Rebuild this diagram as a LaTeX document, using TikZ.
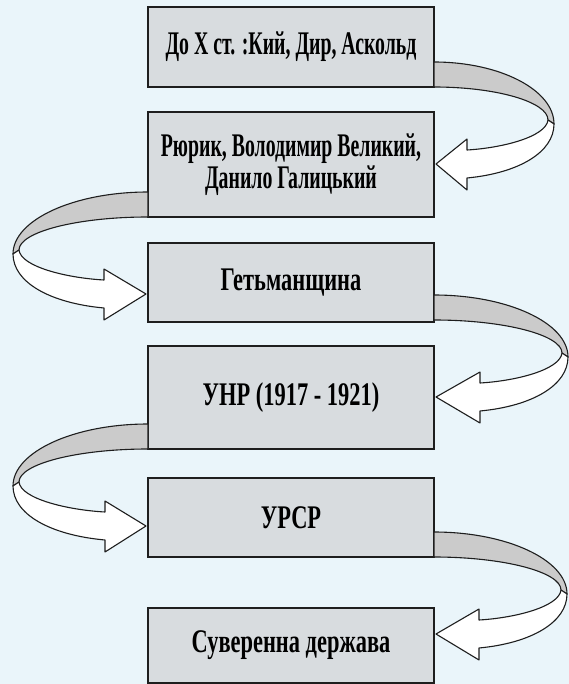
\documentclass[tikz,border=0pt]{standalone}
\usepackage{fontspec}
\usepackage{graphicx}
\setmainfont{Liberation Serif}
\usetikzlibrary{calc}
\definecolor{bgcol}{RGB}{234,245,250}
\definecolor{boxfill}{RGB}{216,220,223}
\definecolor{backband}{RGB}{203,203,203}
\definecolor{edgecol}{RGB}{30,30,30}
\newcommand\bt[1]{\scalebox{0.68}[1]{\bfseries #1}}
\newcommand\bn[1]{\scalebox{0.6}[1]{\bfseries #1}}
\newcommand\myribbon[2]{%
  \filldraw[bandback] (0,0) .. controls ({0.55*#1},0) and (#1,28) .. (#1,62)
     -- ({#1-6},58) .. controls ({#1-6},40) and ({0.55*(#1-6)},25) .. (0,25) -- cycle;
  \filldraw[bandfront] ({#1-6},58) .. controls ({#1-8},75) and ({#2+0.4*(#1-#2)},86) .. (#2,88)
     -- (#2,77) -- (2,102) -- (#2,128) -- (#2,116)
     .. controls ({#2+0.6*(#1-#2)},111) and (#1,90) .. (#1,62) -- cycle;
}
\tikzset{
  stagebox/.style={draw=edgecol, line width=1.3pt, fill=boxfill, minimum width=286pt,
    inner sep=0pt, outer sep=0pt, align=center, font=\fontsize{33}{32}\selectfont},
  bandback/.style={draw=edgecol, line width=1.1pt, fill=backband, line join=round},
  bandfront/.style={draw=edgecol, line width=1.1pt, fill=white, line join=round},
}
\begin{document}
\begin{tikzpicture}[x=1pt,y=-1pt]
\fill[bgcol] (0,0) rectangle (569,684);
\useasboundingbox (0,0) rectangle (569,684);
\node[stagebox, minimum height=80pt] (b1) at (291,47) {\bn{До X ст. :Кий, Дир, Аскольд}};
\node[stagebox, minimum height=105pt] (b2) at (291,164.5) {\bn{Рюрик, Володимир Великий,}\\\bn{Данило Галицький}};
\node[stagebox, minimum height=79pt] (b3) at (291,282.5) {\bt{Гетьманщина}};
\node[stagebox, minimum height=103pt] (b4) at (291,397.5) {\bt{УНР (1917 - 1921)}};
\node[stagebox, minimum height=79pt] (b5) at (291,517.5) {\bt{УРСР}};
\node[stagebox, minimum height=75pt] (b6) at (291,645.5) {\bt{Суверенна держава}};
% arrows between boxes
\begin{scope}[shift={($(b1.south east)+(0,-25)$)}]
  \myribbon{120}{33}
\end{scope}
\begin{scope}[shift={($(b2.south west)+(0,-25)$)}, xscale=-1]
  \myribbon{135}{44}
\end{scope}
\begin{scope}[shift={($(b3.south east)+(0,-27)$)}]
  \myribbon{134}{46}
\end{scope}
\begin{scope}[shift={($(b4.south west)+(0,-25)$)}, xscale=-1]
  \myribbon{135}{43}
\end{scope}
\begin{scope}[shift={($(b5.south east)+(0,-25)$)}]
  \myribbon{133}{45}
\end{scope}
\end{tikzpicture}
\end{document}
